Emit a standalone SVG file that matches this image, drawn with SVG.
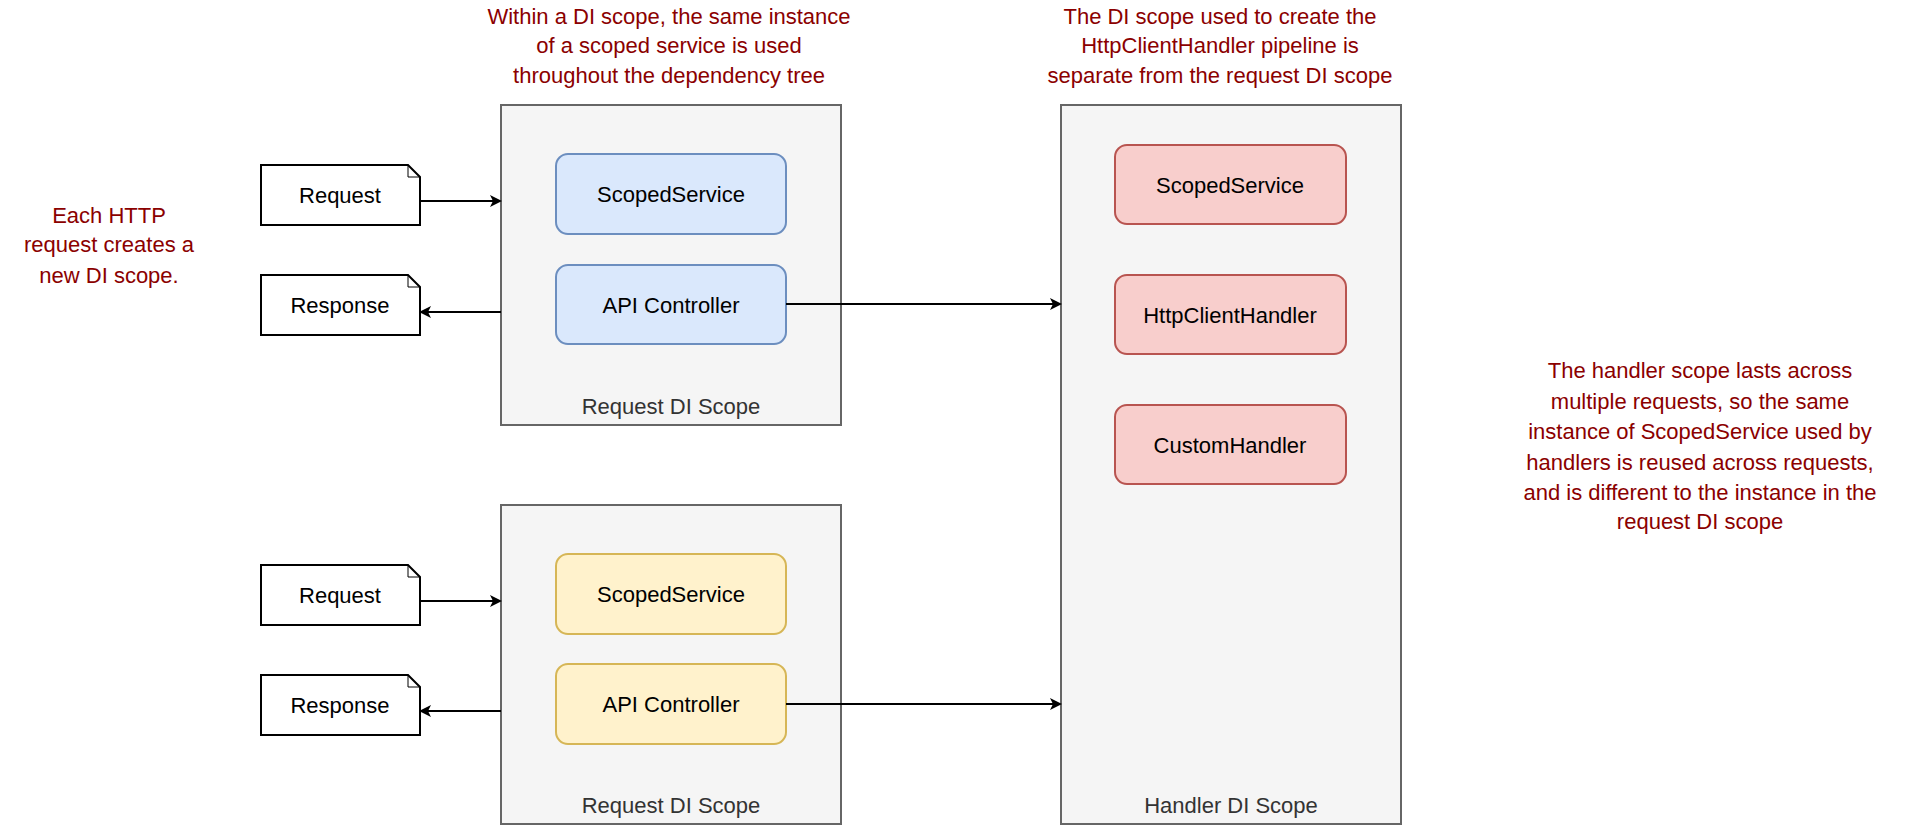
<svg xmlns="http://www.w3.org/2000/svg" width="1922" height="828" viewBox="0 0 1922 828">
<style>
text{font-family:"Liberation Sans",Arial,sans-serif;font-size:22px;text-anchor:middle;dominant-baseline:central}
.scope{fill:#f5f5f5;stroke:#666;stroke-width:2}
.sl{fill:#333}
.blue{fill:#dae8fc;stroke:#6c8ebf;stroke-width:2}
.yel{fill:#fff2cc;stroke:#d6b656;stroke-width:2}
.red{fill:#f8cecc;stroke:#b85450;stroke-width:2}
.doc{fill:#fff;stroke:#000;stroke-width:2}
.note{fill:#8b0000}
.c{fill:none;stroke:#000;stroke-width:2;marker-end:url(#ah)}
</style>
<defs><marker id="ah" markerWidth="12" markerHeight="12" refX="10" refY="6" orient="auto" markerUnits="userSpaceOnUse"><path d="M0,0 L12,6 L0,12 L3,6 Z" fill="#000"/></marker></defs>
<rect width="1922" height="828" fill="#fff"/>
<g id="scope1"><rect class="scope" x="501" y="105" width="340" height="320"/><text class="sl" x="671" y="406">Request DI Scope</text></g>
<g id="scope2"><rect class="scope" x="501" y="505" width="340" height="319"/><text class="sl" x="671" y="805">Request DI Scope</text></g>
<g id="handlerScope"><rect class="scope" x="1061" y="105" width="340" height="719"/><text class="sl" x="1231" y="805">Handler DI Scope</text></g>
<g id="ss1"><rect class="blue" x="556" y="154" width="230" height="80" rx="12"/><text x="671" y="194">ScopedService</text></g>
<g id="api1"><rect class="blue" x="556" y="265" width="230" height="79" rx="12"/><text x="671" y="305">API Controller</text></g>
<g id="ss2"><rect class="yel" x="556" y="554" width="230" height="80" rx="12"/><text x="671" y="594">ScopedService</text></g>
<g id="api2"><rect class="yel" x="556" y="664" width="230" height="80" rx="12"/><text x="671" y="704">API Controller</text></g>
<g id="hss"><rect class="red" x="1115" y="145" width="231" height="79" rx="12"/><text x="1230" y="185">ScopedService</text></g>
<g id="hch"><rect class="red" x="1115" y="275" width="231" height="79" rx="12"/><text x="1230" y="315">HttpClientHandler</text></g>
<g id="ch"><rect class="red" x="1115" y="405" width="231" height="79" rx="12"/><text x="1230" y="445">CustomHandler</text></g>
<g id="req1"><path class="doc" d="M261,165 H408 L420,177 V225 H261 Z"/><path d="M408,165 V177 H420" fill="none" stroke="#000"/><text x="340" y="195">Request</text></g>
<g id="resp1"><path class="doc" d="M261,275 H408 L420,287 V335 H261 Z"/><path d="M408,275 V287 H420" fill="none" stroke="#000"/><text x="340" y="305">Response</text></g>
<g id="req2"><path class="doc" d="M261,565 H408 L420,577 V625 H261 Z"/><path d="M408,565 V577 H420" fill="none" stroke="#000"/><text x="340" y="595">Request</text></g>
<g id="resp2"><path class="doc" d="M261,675 H408 L420,687 V735 H261 Z"/><path d="M408,675 V687 H420" fill="none" stroke="#000"/><text x="340" y="705">Response</text></g>
<g id="connectors">
<path class="c" d="M420,201 H500"/>
<path class="c" d="M501,312 H421"/>
<path class="c" d="M786,304 H1060"/>
<path class="c" d="M420,601 H500"/>
<path class="c" d="M501,711 H421"/>
<path class="c" d="M786,704 H1060"/>
</g>
<g id="notes" class="note">
<text class="note" x="669" y="16">Within a DI scope, the same instance</text>
<text class="note" x="669" y="45">of a scoped service is used</text>
<text class="note" x="669" y="75">throughout the dependency tree</text>
<text class="note" x="1220" y="16">The DI scope used to create the</text>
<text class="note" x="1220" y="45">HttpClientHandler pipeline is</text>
<text class="note" x="1220" y="75">separate from the request DI scope</text>
<text class="note" x="109" y="215">Each HTTP</text>
<text class="note" x="109" y="244">request creates a</text>
<text class="note" x="109" y="275">new DI scope.</text>
<text class="note" x="1700" y="370">The handler scope lasts across</text>
<text class="note" x="1700" y="401">multiple requests, so the same</text>
<text class="note" x="1700" y="431">instance of ScopedService used by</text>
<text class="note" x="1700" y="462">handlers is reused across requests,</text>
<text class="note" x="1700" y="492">and is different to the instance in the</text>
<text class="note" x="1700" y="521">request DI scope</text>
</g>
</svg>
